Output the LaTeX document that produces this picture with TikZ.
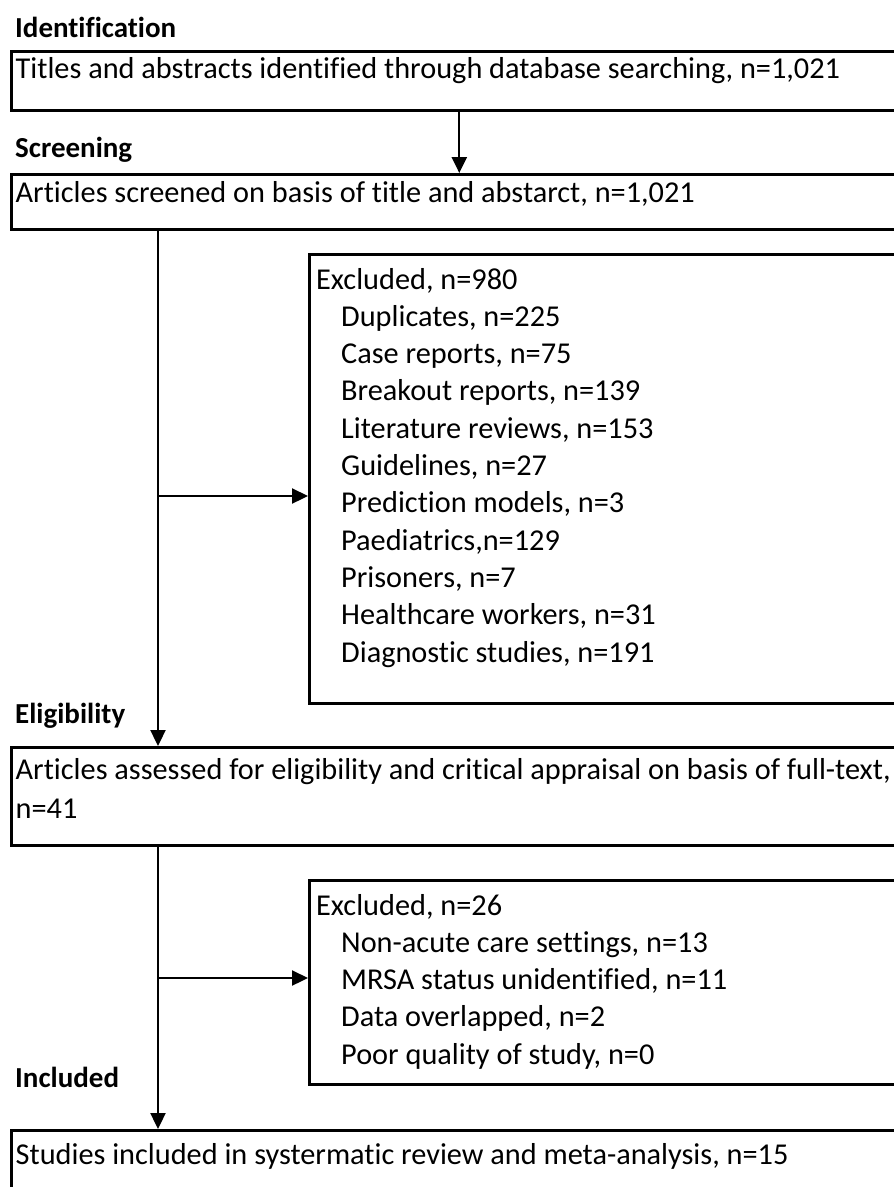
\documentclass[tikz,border=0pt]{standalone}
\usepackage{fontspec}
\setmainfont{Carlito}[Ligatures={NoCommon,NoContextual}]
\usetikzlibrary{arrows.meta}
\begin{document}
\begin{tikzpicture}[x=1pt,y=-1pt,
  box/.style={draw=black, line width=2.6pt, anchor=north west, inner sep=0pt, fill=none},
  txt/.style={anchor=base west, inner sep=0pt, font=\fontsize{30.3}{36}\selectfont},
  lab/.style={anchor=base west, inner sep=0pt, font=\fontsize{29}{35}\selectfont\bfseries},
  arr/.style={line width=2.3pt, -{Triangle[length=16pt,width=15pt]}},
  ln/.style={line width=2.3pt}]
\useasboundingbox (0,0) rectangle (894,1187);
\fill[white] (0,0) rectangle (894,1187);
\clip (0,0) rectangle (894,1187);

% boxes
\node[box, minimum width=896pt, minimum height=59pt] (b1) at (10,50) {};
\node[box, minimum width=896pt, minimum height=55pt] (b2) at (10,173) {};
\node[box, minimum width=600pt, minimum height=449pt] (ex1) at (308,253) {};
\node[box, minimum width=896pt, minimum height=98pt] (b3) at (10,746) {};
\node[box, minimum width=600pt, minimum height=204pt] (ex2) at (308,879) {};
\node[box, minimum width=896pt, minimum height=100pt] (b4) at (10,1129) {};

% stage labels
\node[lab] (l1) at (15,37) {Identification};
\node[lab] (l2) at (15,157) {Screening};
\node[lab] (l3) at (15,723) {Eligibility};
\node[lab] (l4) at (15,1087) {Included};

% box texts
\node[txt] (t1) at (15.5,78) {Titles and abstracts identified through database searching, n=1,021};
\node[txt] (t2) at (15.5,202) {Articles screened on basis of title and abstarct, n=1,021};
\node[txt] (t3a) at (15.5,779) {Articles assessed for eligibility and critical appraisal on basis of full-text,};
\node[txt] (t3b) at (15.5,818) {n=41};
\node[txt] (t4) at (15.5,1164) {Studies included in systermatic review and meta-analysis, n=15};

% exclusion list 1
\node[txt] (e1h) at (316,289) {Excluded, n=980};
\foreach \t [count=\i] in {Duplicates{,} n=225, Case reports{,} n=75, Breakout reports{,} n=139,
  Literature reviews{,} n=153, Guidelines{,} n=27, Prediction models{,} n=3, Paediatrics{,}n=129,
  Prisoners{,} n=7, Healthcare workers{,} n=31, Diagnostic studies{,} n=191}
  \node[txt] (e1-\i) at (341,289+37.3*\i) {\t};

% exclusion list 2
\node[txt] (e2h) at (316,915) {Excluded, n=26};
\foreach \t [count=\i] in {Non-acute care settings{,} n=13, MRSA status unidentified{,} n=11,
  Data overlapped{,} n=2, Poor quality of study{,} n=0}
  \node[txt] (e2-\i) at (341,915+37.3*\i) {\t};

% connectors
\coordinate (tr) at (158,0);
\coordinate (j1) at (158,496);
\coordinate (j2) at (158,978);
\draw[arr] (b1.south) -- (b2.north);
\draw[arr] (b2.south -| tr) -- (b3.north -| tr);
\draw[arr] (j1) -- (j1 -| ex1.west);
\draw[arr] (b3.south -| tr) -- (b4.north -| tr);
\draw[arr] (j2) -- (j2 -| ex2.west);
\end{tikzpicture}
\end{document}
